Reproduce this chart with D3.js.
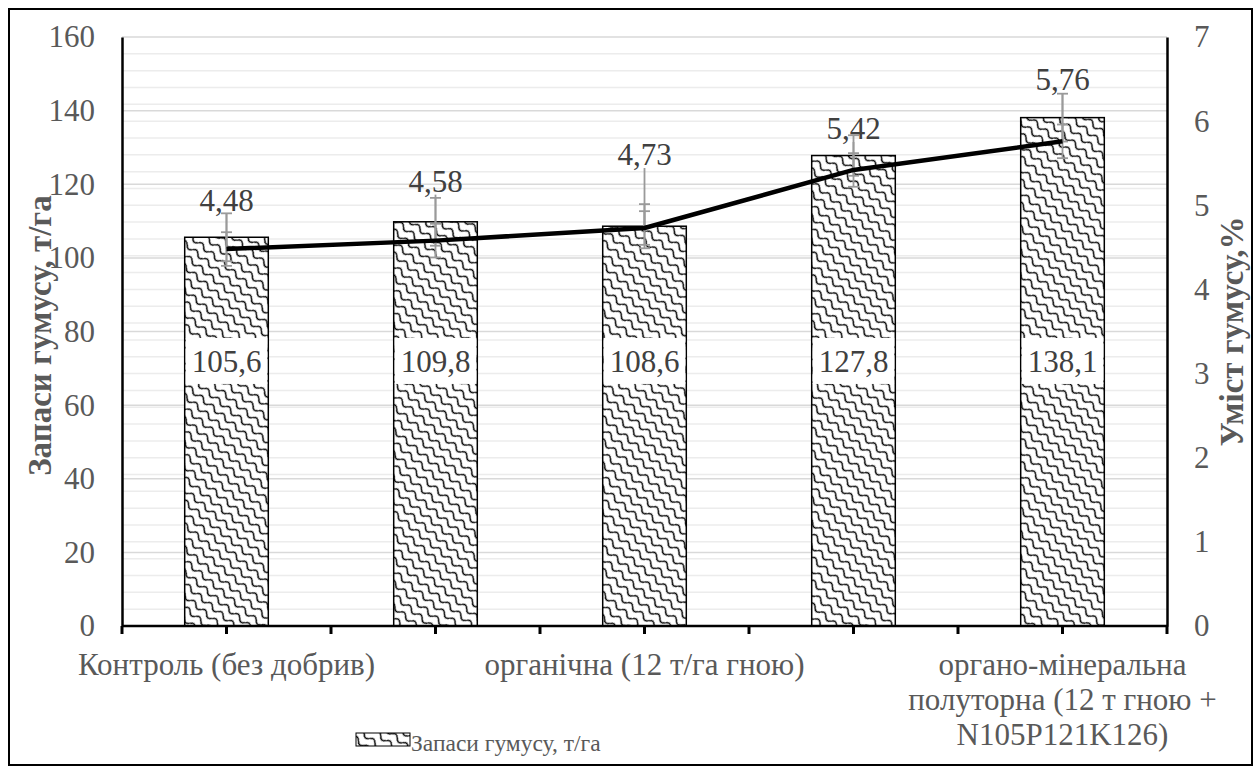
<!DOCTYPE html>
<html>
<head>
<meta charset="utf-8">
<script src="https://cdn.jsdelivr.net/npm/d3@7/dist/d3.min.js"></script>
<style>
  body { margin: 0; background: #fff; }
  svg { display: block; }
  svg text { font-family: "Liberation Serif", "Times New Roman", serif; }
</style>
</head>
<body>
<svg id="chart"></svg>
<script>
const categories = [
  "Контроль (без добрив)",
  "",
  "органічна (12 т/га гною)",
  "",
  "органо-мінеральна\nполуторна (12 т гною +\nN105P121K126)"
];
const stock = [105.6, 109.8, 108.6, 127.8, 138.1];      // Запаси гумусу, т/га
const stockErr = [6.5, 6.5, 6, 5.5, 6.5];
const content = [4.48, 4.58, 4.73, 5.42, 5.76];         // Уміст гумусу, %
const contentErr = [0.2, 0.2, 0.2, 0.2, 0.2];
const leftTicks = [0, 20, 40, 60, 80, 100, 120, 140, 160];
const rightTicks = [0, 1, 2, 3, 4, 5, 6, 7];

// label lift above each line point (px), labels were dragged by hand in the original
const labelLift = [49, 60, 74, 42, 62];

const width = 1259, height = 774;
const margin = { top: 37, right: 92, bottom: 148, left: 122 };

const svg = d3.select("#chart")
  .attr("width", width)
  .attr("height", height);

// pattern like the excel "wave" fill
const defs = svg.append("defs");
const pat = defs.append("pattern")
  .attr("id", "wave")
  .attr("patternUnits", "userSpaceOnUse")
  .attr("width", 14)
  .attr("height", 9)
  .attr("patternTransform", "rotate(40)");
pat.append("rect").attr("width", 14).attr("height", 9).attr("fill", "#fff");
pat.append("path")
  .attr("d", "M0,4.5 Q3.5,0 7,4.5 T14,4.5")
  .attr("fill", "none")
  .attr("stroke", "#000")
  .attr("stroke-width", 1.4);

// outer frame
svg.append("rect")
  .attr("x", 9).attr("y", 9)
  .attr("width", 1243).attr("height", 756)
  .attr("fill", "none")
  .attr("stroke", "#000")
  .attr("stroke-width", 2);

const x = d3.scaleBand()
  .domain(d3.range(categories.length))
  .range([margin.left, width - margin.right])
  .paddingInner(0.6)
  .paddingOuter(0.3);

const yL = d3.scaleLinear()
  .domain([0, 160])
  .range([height - margin.bottom, margin.top]);

const yR = d3.scaleLinear()
  .domain([0, 7])
  .range([height - margin.bottom, margin.top]);

const cx = i => x(i) + x.bandwidth() / 2;

// gridlines: light minor every 0.2 on the right axis, a bit darker on left majors
svg.append("g")
  .selectAll("line")
  .data(d3.range(1, 35).map(k => k / 5))
  .join("line")
  .attr("x1", margin.left).attr("x2", width - margin.right)
  .attr("y1", d => yR(d)).attr("y2", d => yR(d))
  .attr("stroke", "#ececec")
  .attr("stroke-width", 1.5);

svg.append("g")
  .selectAll("line")
  .data(leftTicks.slice(1))
  .join("line")
  .attr("x1", margin.left).attr("x2", width - margin.right)
  .attr("y1", d => yL(d)).attr("y2", d => yL(d))
  .attr("stroke", "#d9d9d9")
  .attr("stroke-width", 1.5);

// bars
svg.append("g")
  .selectAll("rect")
  .data(stock)
  .join("rect")
  .attr("x", (d, i) => x(i))
  .attr("y", d => yL(d))
  .attr("width", x.bandwidth())
  .attr("height", d => yL(0) - yL(d))
  .attr("fill", "url(#wave)")
  .attr("stroke", "#000")
  .attr("stroke-width", 1.5);

// axes
const axisColor = "#595959";

const gL = svg.append("g")
  .attr("transform", `translate(${margin.left},0)`)
  .call(d3.axisLeft(yL).tickValues(leftTicks).tickSize(0).tickPadding(27))
  .attr("font-family", null);
gL.select(".domain").attr("stroke", "#000").attr("stroke-width", 2.5);
gL.selectAll("text").attr("font-size", 31).attr("fill", axisColor);

const gR = svg.append("g")
  .attr("transform", `translate(${width - margin.right},0)`)
  .call(d3.axisRight(yR).tickValues(rightTicks).tickFormat(d3.format("d")).tickSize(0).tickPadding(27))
  .attr("font-family", null);
gR.select(".domain").attr("stroke", "#000").attr("stroke-width", 2.5);
gR.selectAll("text").attr("font-size", 31).attr("fill", axisColor);

// bottom axis with ticks at boundaries and centres
const step = x.step();
const xTicks = [];
categories.forEach((c, i) => {
  xTicks.push(cx(i) - step / 2);
  xTicks.push(cx(i));
});
xTicks.push(cx(categories.length - 1) + step / 2);

const gB = svg.append("g");
gB.append("line")
  .attr("x1", margin.left).attr("x2", width - margin.right)
  .attr("y1", yL(0)).attr("y2", yL(0))
  .attr("stroke", "#000").attr("stroke-width", 2.5);
gB.selectAll(".tk")
  .data(xTicks)
  .join("line")
  .attr("class", "tk")
  .attr("x1", d => d).attr("x2", d => d)
  .attr("y1", yL(0)).attr("y2", yL(0) + 8)
  .attr("stroke", "#000").attr("stroke-width", 3);

gB.selectAll(".cat")
  .data(categories)
  .join("text")
  .attr("class", "cat")
  .attr("x", (d, i) => cx(i))
  .attr("y", yL(0) + 49)
  .attr("text-anchor", "middle")
  .attr("font-size", 31)
  .attr("fill", axisColor)
  .each(function (d) {
    const t = d3.select(this);
    d.split("\n").forEach((line, k) => {
      t.append("tspan")
        .attr("x", t.attr("x"))
        .attr("dy", k === 0 ? 0 : 35)
        .text(line);
    });
  });

// error bars
const errColor = "#9a9a9a";
const capW = 11;
const eb = svg.append("g").attr("stroke", errColor).attr("stroke-width", 1.8);
function errBar(xc, lo, hi) {
  eb.append("line").attr("x1", xc).attr("x2", xc).attr("y1", lo).attr("y2", hi);
  eb.append("line").attr("x1", xc - capW / 2).attr("x2", xc + capW / 2).attr("y1", lo).attr("y2", lo);
  eb.append("line").attr("x1", xc - capW / 2).attr("x2", xc + capW / 2).attr("y1", hi).attr("y2", hi);
}
stock.forEach((v, i) => errBar(cx(i), yL(v - stockErr[i]), yL(v + stockErr[i])));
content.forEach((v, i) => {
  errBar(cx(i), yR(v - contentErr[i]), yR(v + contentErr[i]));
  // leader line up to the label
  eb.append("line").attr("x1", cx(i)).attr("x2", cx(i))
    .attr("y1", yR(v)).attr("y2", yR(v) - labelLift[i] + 14);
});

// line for humus content
svg.append("path")
  .datum(content)
  .attr("d", d3.line().x((d, i) => cx(i)).y(d => yR(d)))
  .attr("fill", "none")
  .attr("stroke", "#000")
  .attr("stroke-width", 4.5)
  .attr("stroke-linejoin", "round");

// line labels
const fmt = v => String(v).replace(".", ",");
svg.append("g")
  .selectAll("text")
  .data(content)
  .join("text")
  .attr("x", (d, i) => cx(i))
  .attr("y", (d, i) => yR(d) - labelLift[i] + 11)
  .attr("text-anchor", "middle")
  .attr("font-size", 31)
  .attr("fill", "#404040")
  .text(fmt);

// bar labels in white boxes
const bl = svg.append("g");
stock.forEach((v, i) => {
  bl.append("rect")
    .attr("x", x(i) + 1)
    .attr("y", yL(72) - 23)
    .attr("width", x.bandwidth() - 2)
    .attr("height", 46)
    .attr("fill", "#fff");
  bl.append("text")
    .attr("x", cx(i))
    .attr("y", yL(72) + 11)
    .attr("text-anchor", "middle")
    .attr("font-size", 31)
    .attr("fill", "#404040")
    .text(fmt(v));
});

// axis titles
svg.append("text")
  .attr("transform", `translate(51,${(yL(0) + yL(160)) / 2 + 4}) rotate(-90)`)
  .attr("text-anchor", "middle")
  .attr("font-size", 33)
  .attr("font-weight", "bold")
  .attr("fill", axisColor)
  .text("Запаси гумусу, т/га");

svg.append("text")
  .attr("transform", `translate(1243,${(yR(0) + yR(7)) / 2}) rotate(-90)`)
  .attr("text-anchor", "middle")
  .attr("font-size", 33)
  .attr("font-weight", "bold")
  .attr("fill", axisColor)
  .text("Уміст гумусу,%");

// legend
const lg = svg.append("g").attr("transform", "translate(356,733)");
lg.append("rect")
  .attr("width", 54).attr("height", 13)
  .attr("fill", "url(#wave)")
  .attr("stroke", "#000").attr("stroke-width", 1);
lg.append("text")
  .attr("x", 55).attr("y", 18)
  .attr("font-size", 23.5)
  .attr("fill", axisColor)
  .text("Запаси гумусу, т/га");
</script>
</body>
</html>
